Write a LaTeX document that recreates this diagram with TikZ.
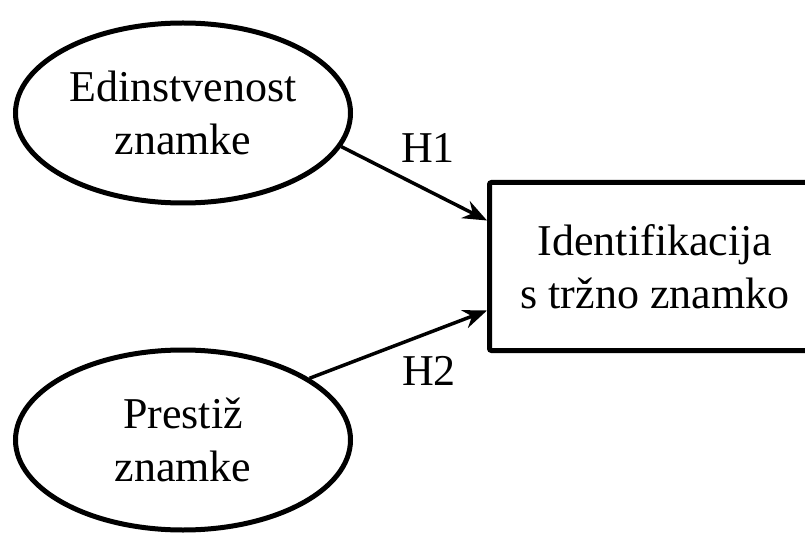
\documentclass[tikz,border=0pt]{standalone}
\usepackage{fontspec}
\setmainfont{Liberation Serif}
\usetikzlibrary{shapes.geometric,arrows.meta}
\begin{document}
\begin{tikzpicture}[x=1pt,y=-1pt,
  every node/.style={font=\fontsize{44}{53}\selectfont},
  oval/.style={draw,ellipse,line width=5pt,minimum width=335pt,minimum height=180pt,inner sep=0pt,align=center},
  box/.style={draw,line width=5pt,rounded corners=2pt,minimum width=331pt,minimum height=168pt,inner sep=0pt,align=center},
  link/.style={line width=3.5pt,-{Stealth[length=24pt,width=19pt,inset=8pt]}},
  lbl/.style={inner sep=0pt}]
\useasboundingbox (0,0) rectangle (805,537);
\clip (0,0) rectangle (805,537);
\node[oval] (e1) at (183,113) {Edinstvenost\\znamke};
\node[oval] (e2) at (183,440) {Prestiž\\znamke};
\node[box] (b) at (655,266.5) {Identifikacija\\s tržno znamko};
\coordinate (t1) at ([yshift=46pt]b.west);
\coordinate (t2) at ([yshift=-44pt]b.west);
\draw[link] (e1.-12) -- (t1);
\draw[link] (e2.26) -- (t2);
\node[lbl] (h1) at (428,148) {H1};
\node[lbl] (h2) at (429,371) {H2};
\end{tikzpicture}
\end{document}
